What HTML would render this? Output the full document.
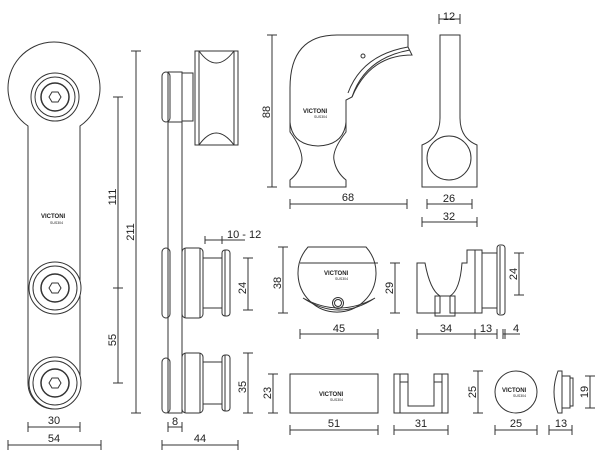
<!DOCTYPE html>
<html><head><meta charset="utf-8"><style>
html,body{margin:0;padding:0;background:#fff}
svg{display:block}
text{font-family:"Liberation Sans",sans-serif;font-size:11px;fill:#222}
.l{font-size:6px;font-weight:bold}
.s{font-size:3.5px}
</style></head><body>
<svg width="600" height="470" viewBox="0 0 600 470" fill="none" stroke="#333" stroke-width="1">
<!-- LEFT FRONT VIEW -->
<path d="M28,126 A46,46 0 1 1 80,126 L80,383 A26,26 0 0 1 28,383 Z" fill="#fff"/>
<g fill="#fff">
<circle cx="55" cy="97" r="24"/><circle cx="55" cy="97" r="20"/><circle cx="55" cy="97" r="14" stroke-width="1.5"/>
<circle cx="55" cy="288" r="26"/><circle cx="55" cy="288" r="22"/><circle cx="55" cy="288" r="14" stroke-width="1.5"/>
<circle cx="55" cy="383" r="26"/><circle cx="55" cy="383" r="22"/><circle cx="55" cy="383" r="14" stroke-width="1.5"/>
</g>
<polygon points="61,97 58,102 52,102 49,97 52,92 58,92"/>
<polygon points="61,288 58,293 52,293 49,288 52,283 58,283"/>
<polygon points="61,383 58,388 52,388 49,383 52,378 58,378"/>
<text x="41" y="218" class="l" stroke="none">VICTONI</text><text x="50" y="224" class="s" stroke="none">SUS304</text>
<!-- dims left -->
<path d="M118,97V288M118,383V288M113,97h10M113,288h10M113,383h10"/>
<path d="M136,51V413M131,51h10M131,413h10"/>
<text transform="translate(116,197) rotate(-90)" text-anchor="middle" stroke="none">111</text>
<text transform="translate(116,340) rotate(-90)" text-anchor="middle" stroke="none">55</text>
<text transform="translate(134,232) rotate(-90)" text-anchor="middle" stroke="none">211</text>
<path d="M28,427H80M28,422v10M80,422v10M8,445H101M8,440v10M101,440v10"/>
<text x="54" y="424" text-anchor="middle" stroke="none">30</text>
<text x="54" y="442" text-anchor="middle" stroke="none">54</text>
<!-- SIDE VIEW -->
<rect x="168" y="72" width="14" height="341"/>
<rect x="162" y="72" width="8" height="50" rx="4"/>
<rect x="162" y="248" width="8" height="70" rx="4"/>
<rect x="162" y="358" width="8" height="55" rx="4"/>
<rect x="168" y="72" width="14" height="50"/>
<rect x="182" y="73" width="11" height="48"/>
<path d="M195,51h43v94h-43zM199,51v94M234,51v94"/>
<path d="M199,51Q216,75 234,51M199,145Q216,121 234,145"/>
<g fill="#fff">
<rect x="182" y="248" width="21" height="70" rx="4"/><path d="M185,248v70M200,248v70"/>
<rect x="203" y="258" width="19" height="50"/>
<rect x="222" y="250" width="8" height="66" rx="3"/><path d="M225,250v66"/>
<rect x="182" y="353" width="21" height="60" rx="4"/><path d="M185,353v60M200,353v60"/>
<rect x="203" y="362" width="19" height="42"/>
<rect x="222" y="355" width="8" height="56" rx="3"/><path d="M225,355v56"/>
</g>
<path d="M205,240h40M205,236v8M222,236v8"/>
<text x="227" y="238" stroke="none">10 - 12</text>
<path d="M248,258V310M243,258h10M243,310h10M248,353V413M243,353h10M243,413h10"/>
<text transform="translate(246,288) rotate(-90)" text-anchor="middle" stroke="none">24</text>
<text transform="translate(246,387) rotate(-90)" text-anchor="middle" stroke="none">35</text>
<path d="M168,427H182M168,422v10M182,422v10M162,445H238M162,440v10M238,440v10"/>
<text x="175" y="425" text-anchor="middle" stroke="none">8</text>
<text x="200" y="442" text-anchor="middle" stroke="none">44</text>
<!-- FAUCET PIECE -->
<path d="M290,132 V88 Q290,35 337,35 H408 V47 L412,55 Q370,55 352,97 L346,100 V132 Q332,150 334,160 Q336,172 346,180 V187 H290 V180 Q300,172 302,160 Q302,148 290,132 Z"/>
<path d="M290,122 Q292,145 318,146 Q344,145 346,122"/>
<path d="M352,97 Q365,58 410,50M348,93 Q362,55 408,47"/>
<circle cx="363" cy="56" r="2"/>
<text x="303" y="113" class="l" stroke="none">VICTONI</text><text x="314" y="118" class="s" stroke="none">SUS304</text>
<path d="M272,35V187M267,35h10M267,187h10"/>
<text transform="translate(270,112) rotate(-90)" text-anchor="middle" stroke="none">88</text>
<path d="M290,204H407M290,199v10M407,199v10"/>
<text x="348" y="201" text-anchor="middle" stroke="none">68</text>
<path d="M440,35H460V118Q460,138 477,145V187H422V145Q440,138 440,118Z"/>
<circle cx="449" cy="158" r="22"/>
<path d="M439,19H460M439,14v10M460,14v10M427,204H472M427,199v10M472,199v10M422,222H477M422,217v10M477,217v10"/>
<text x="449" y="20" text-anchor="middle" stroke="none">12</text>
<text x="449" y="202" text-anchor="middle" stroke="none">26</text>
<text x="449" y="220" text-anchor="middle" stroke="none">32</text>
<!-- ROUND PIECE -->
<path d="M308,247H366 A39,39 0 1 1 308,247Z"/>
<path d="M300,263H378"/>
<path d="M303,298 Q339,318 375,298 Q339,322 303,298"/>
<circle cx="338" cy="303" r="5.5"/><circle cx="338" cy="303" r="3.5"/>
<text x="324" y="275" class="l" stroke="none">VICTONI</text><text x="335" y="280" class="s" stroke="none">SUS304</text>
<path d="M283,247V313M278,247h10M278,313h10M395,263V313M390,263h10M390,313h10"/>
<text transform="translate(281,283) rotate(-90)" text-anchor="middle" stroke="none">38</text>
<text transform="translate(393,288) rotate(-90)" text-anchor="middle" stroke="none">29</text>
<path d="M300,334H378M300,329v10M378,329v10"/>
<text x="339" y="332" text-anchor="middle" stroke="none">45</text>
<!-- CLIP -->
<path d="M417,263H425Q430,290 440,296V313H417ZM475,313V250H467V263H462Q460,290 450,296V313Z"/>
<path d="M440,296H450"/>
<rect x="435" y="296" width="20" height="20"/>
<path d="M475,250h7v63h-7"/>
<rect x="482" y="253" width="15" height="55"/>
<rect x="497" y="245" width="8" height="70" rx="3"/><path d="M500,246v68"/>
<path d="M519,253V295M514,253h10M514,295h10"/>
<text transform="translate(517,274) rotate(-90)" text-anchor="middle" stroke="none">24</text>
<path d="M417,334H497M417,329v10M475,329v10M497,329v10M503,334H520M503,329v10M505,329v10"/>
<text x="446" y="332" text-anchor="middle" stroke="none">34</text>
<text x="486" y="332" text-anchor="middle" stroke="none">13</text>
<text x="516" y="332" text-anchor="middle" stroke="none">4</text>
<!-- BOTTOM ROW -->
<rect x="290" y="374" width="88" height="39"/>
<text x="319" y="396" class="l" stroke="none">VICTONI</text><text x="330" y="401" class="s" stroke="none">SUS304</text>
<path d="M273,374V413M268,374h10M268,413h10"/>
<text transform="translate(271,393) rotate(-90)" text-anchor="middle" stroke="none">23</text>
<path d="M290,430H378M290,425v10M378,425v10"/>
<text x="334" y="427" text-anchor="middle" stroke="none">51</text>
<path d="M394,374H408V406H434V374H448V413H394Z"/>
<path d="M400,374V413M442,374V413M408,382h-8M434,382h8"/>
<path d="M394,430H448M394,425v10M448,425v10"/>
<text x="421" y="427" text-anchor="middle" stroke="none">31</text>
<circle cx="516" cy="392" r="21"/>
<text x="502" y="392" class="l" stroke="none">VICTONI</text><text x="513" y="397" class="s" stroke="none">SUS304</text>
<path d="M478,371V413M473,371h10M473,413h10"/>
<text transform="translate(476,392) rotate(-90)" text-anchor="middle" stroke="none">25</text>
<path d="M495,430H537M495,425v10M537,425v10"/>
<text x="516" y="427" text-anchor="middle" stroke="none">25</text>
<path d="M558,371Q550,392 558,413H562V371Z"/>
<rect x="562" y="376" width="8" height="32"/><rect x="570" y="378" width="3" height="28"/>
<path d="M590,376V408M585,376h10M585,408h10"/>
<text transform="translate(588,392) rotate(-90)" text-anchor="middle" stroke="none">19</text>
<path d="M549,430H572M549,425v10M572,425v10"/>
<text x="561" y="427" text-anchor="middle" stroke="none">13</text>
</g>
</svg>
</body></html>
